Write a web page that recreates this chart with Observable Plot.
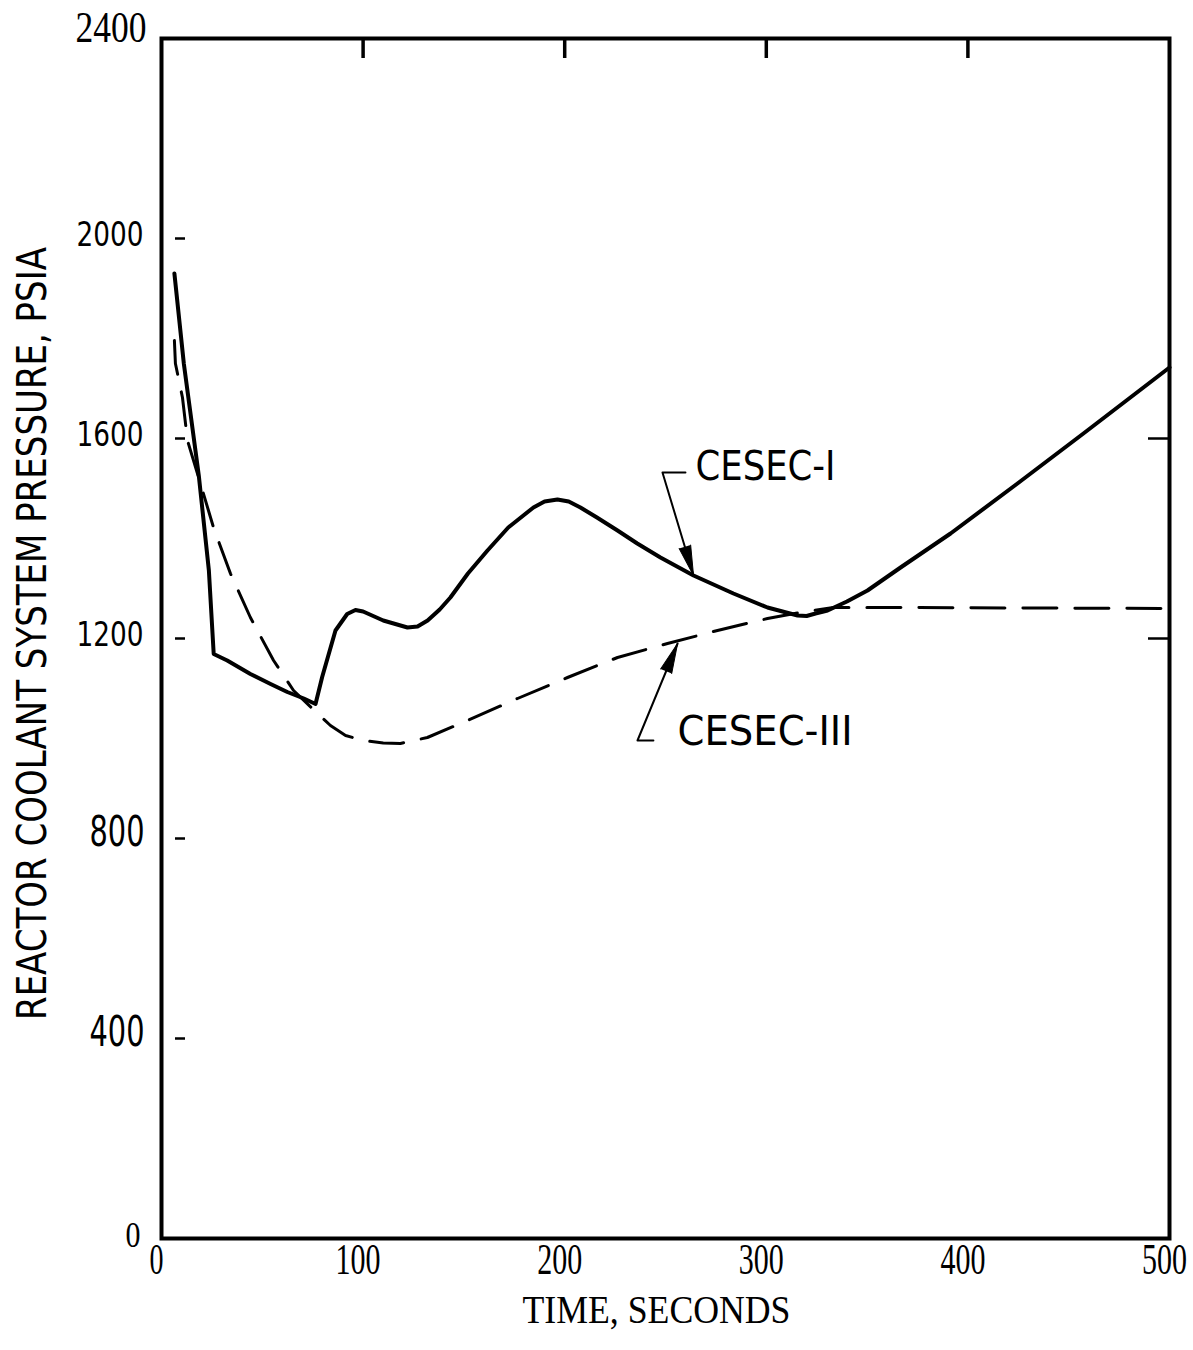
<!DOCTYPE html>
<html>
<head>
<meta charset="utf-8">
<script src="https://cdn.jsdelivr.net/npm/d3@7"></script>
<script src="https://cdn.jsdelivr.net/npm/@observablehq/plot@0.6"></script>
<style>
  body { margin: 0; background: #fff; }
  #chart svg { display: block; }
</style>
</head>
<body>
<div id="chart"></div>
<script>
// ---- Data ----
const cesec1Time = [6.4, 11.1, 18.5, 23.5, 25.9, 32.6, 44.1, 54.1, 62.4, 70.6, 76.4, 79.7, 86.3, 92.1, 96.2, 100, 110, 122, 127, 132, 138, 143.3, 152, 161.7, 172, 184.5, 190, 196.4, 202, 207.8, 216, 226.2, 236, 247.5, 263.9, 283.7, 300.6, 315.5, 320, 324.4, 330.4, 340, 350.2, 366.6, 391.4, 424.6, 457.3, 500];
const cesec1Pressure = [1930, 1749, 1526, 1336, 1169, 1156, 1129, 1109, 1093, 1080, 1069, 1123, 1216, 1249, 1257, 1254, 1236, 1222, 1224, 1236, 1258, 1282, 1330, 1376, 1422, 1462, 1474, 1478, 1474, 1462, 1442, 1416, 1390, 1362, 1326, 1290, 1262, 1246, 1245, 1250, 1256, 1274, 1296, 1342, 1410, 1510, 1610, 1742];

const cesec3Time = [6.4, 6.9, 10.4, 12.9, 19.3, 25.8, 34.2, 44.1, 55.6, 65.5, 77.4, 83.8, 91.3, 100, 110, 118.5, 131.9, 151.8, 176.6, 201.4, 226.2, 251, 275.8, 300.6, 317, 333.3, 366.6, 500];
const cesec3Pressure = [1796, 1750, 1682, 1596, 1510, 1422, 1330, 1242, 1156, 1096, 1050, 1026, 1006, 996, 991, 990, 1002, 1036, 1080, 1122, 1162, 1190, 1216, 1240, 1252, 1262, 1262, 1260];

const xTicks = [0, 100, 200, 300, 400, 500];
const xTopTicks = [100, 200, 300, 400];
const yLeftTicks = [2000, 1600, 1200, 800, 400];
const yRightTicks = [1600, 1200];
const yLabelsTop = [2400];
const yLabelsBottom = [0];
const yLabelsSansSmall = [2000, 1600, 1200];
const yLabelsSansLarge = [800, 400];

const xLabel = "TIME, SECONDS";
const yLabel = "REACTOR COOLANT SYSTEM PRESSURE, PSIA";

// annotations (data coordinates)
const seriesNames = ["CESEC-I", "CESEC-III"];
const labelTime = [264.9, 256];
const labelPressure = [1542, 1012];
const leaderTime = [[259.9, 248.5, 263.9], [244, 236.1, 256]];
const leaderPressure = [[1532, 1532, 1326], [996, 996, 1190]];
const arrowAngle = [163.3, 22.4];

// ---- Build tables ----
const c1 = cesec1Time.map((t, i) => ({t, p: cesec1Pressure[i]}));
const c3 = cesec3Time.map((t, i) => ({t, p: cesec3Pressure[i]}));
const labels = seriesNames.map((name, i) => ({name, t: labelTime[i], p: labelPressure[i]}));
const leaders = leaderTime.flatMap((ts, k) => ts.map((t, j) => ({k, t, p: leaderPressure[k][j]})));
const tips = seriesNames.map((name, k) => ({t: leaderTime[k][2], p: leaderPressure[k][2], a: arrowAngle[k]}));

const SERIF = "'Liberation Serif', 'Times New Roman', serif";
const NARROW = "'Liberation Sans Narrow', 'DejaVu Sans Condensed', 'Arial Narrow', sans-serif";

const plot = Plot.plot({
  width: 1193,
  height: 1350,
  marginLeft: 161,
  marginRight: 24,
  marginTop: 38,
  marginBottom: 112,
  x: {domain: [0, 500], axis: null},
  y: {domain: [0, 2400], axis: null},
  style: {background: "#fff", color: "#000"},
  marks: [
    Plot.frame({stroke: "#000", strokeWidth: 4}),
    // inward ticks
    Plot.tickX(xTopTicks, {x: d => d, insetBottom: 1180, stroke: "#000", strokeWidth: 3.5}),
    Plot.tickY(yLeftTicks, {y: d => d, insetLeft: 14, insetRight: 984, stroke: "#000", strokeWidth: 2.5}),
    Plot.tickY(yRightTicks, {y: d => d, insetLeft: 987, insetRight: 1, stroke: "#000", strokeWidth: 2.5}),
    // tick labels (font sizes also serve to identify groups below)
    Plot.text(xTicks, {x: d => d, text: d => String(d), frameAnchor: "bottom", dy: 35, dx: -5,
      fontFamily: SERIF, fontSize: 44, fill: "#000"}),
    Plot.text(yLabelsTop, {y: d => d, text: d => String(d), frameAnchor: "left", dx: -15, dy: -11, textAnchor: "end",
      fontFamily: SERIF, fontSize: 45, fill: "#000"}),
    Plot.text(yLabelsBottom, {y: d => d, text: d => String(d), frameAnchor: "left", dx: -21, dy: -3, textAnchor: "end",
      fontFamily: SERIF, fontSize: 36, fill: "#000"}),
    Plot.text(yLabelsSansSmall, {y: d => d, text: d => String(d), frameAnchor: "left", dx: -18, dy: -3, textAnchor: "end",
      fontFamily: NARROW, fontSize: 33, fill: "#000"}),
    Plot.text(yLabelsSansLarge, {y: d => d, text: d => String(d), frameAnchor: "left", dx: -17, dy: -6, textAnchor: "end",
      fontFamily: NARROW, fontSize: 42, fill: "#000"}),
    // axis titles
    Plot.text([xLabel], {text: d => d, frameAnchor: "bottom", dy: 84, dx: -9,
      fontFamily: SERIF, fontSize: 40, fill: "#000"}),
    Plot.text([yLabel], {text: d => d, frameAnchor: "left", textAnchor: "middle", dx: -129, dy: -5, rotate: -90,
      fontFamily: NARROW, fontSize: 41, fill: "#000"}),
    // series
    Plot.line(c3, {x: "t", y: "p", stroke: "#000", strokeWidth: 3, strokeDasharray: "34,18", curve: "linear"}),
    Plot.line(c1, {x: "t", y: "p", stroke: "#000", strokeWidth: 4, curve: "linear", strokeLinejoin: "round"}),
    // annotations
    Plot.line(leaders, {x: "t", y: "p", z: "k", stroke: "#000", strokeWidth: 2}),
    Plot.vector(tips, {x: "t", y: "p", rotate: "a", length: 30, r: 6, shape: "spike", anchor: "end",
      fill: "#000", stroke: "#000", strokeWidth: 1}),
    Plot.text(labels, {x: "t", y: "p", text: "name", textAnchor: "start",
      fontFamily: NARROW, fontSize: 40.5, fill: "#000"})
  ]
});

document.getElementById("chart").appendChild(plot);

// fit widths of texts to the reference's condensed lettering
function widthFor(s, fs) {
  if (s === yLabel) return 773;                              // y title
  if (s === "CESEC-I") return 140;
  if (s === "CESEC-III") return 175;
  if (fs === 44) return s.length === 1 ? 14 : 45;          // x tick labels
  if (fs === 45) return 71;                                  // 2400
  if (fs === 36) return 15;                                  // 0 (y)
  if (fs === 33) return 67;                                  // 2000/1600/1200
  if (fs === 42) return 55;                                  // 800/400
  if (fs === 40) return 268;                                 // x title
  return 0;
}
plot.querySelectorAll("text").forEach(el => {
  const fs = Math.round(parseFloat(getComputedStyle(el).fontSize) * 10) / 10;
  const w = widthFor(el.textContent, fs);
  if (w) {
    el.setAttribute("textLength", w);
    el.setAttribute("lengthAdjust", "spacingAndGlyphs");
  }
});
</script>
</body>
</html>
